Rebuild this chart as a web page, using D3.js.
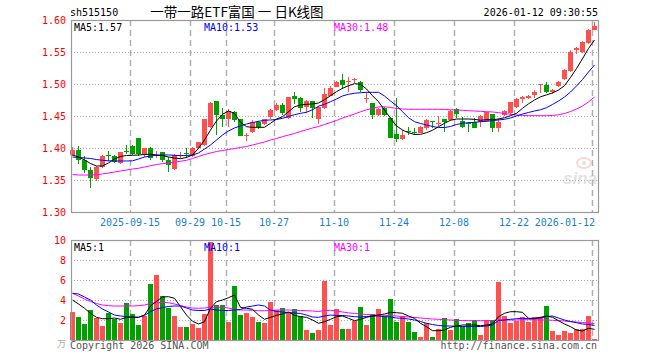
<!DOCTYPE html>
<meta charset="utf-8">
<script src="https://d3js.org/d3.v7.min.js"></script>
<style>
  body { margin: 0; background: #fff; }
  text { font-family: "DejaVu Sans Mono", monospace; font-size: 10px; }
</style>
<div id="kline"></div>
<script>

// trading days shown in the chart
var dates = ["2025-09-01","2025-09-02","2025-09-03","2025-09-04","2025-09-05","2025-09-08","2025-09-09","2025-09-10","2025-09-11","2025-09-12",
  "2025-09-15","2025-09-16","2025-09-17","2025-09-18","2025-09-19","2025-09-22","2025-09-23","2025-09-24","2025-09-25","2025-09-26",
  "2025-09-29","2025-09-30","2025-10-09","2025-10-10","2025-10-13","2025-10-14","2025-10-15","2025-10-16","2025-10-17","2025-10-20",
  "2025-10-21","2025-10-22","2025-10-23","2025-10-24","2025-10-27","2025-10-28","2025-10-29","2025-10-30","2025-10-31","2025-11-03",
  "2025-11-04","2025-11-05","2025-11-06","2025-11-07","2025-11-10","2025-11-11","2025-11-12","2025-11-13","2025-11-14","2025-11-17",
  "2025-11-18","2025-11-19","2025-11-20","2025-11-21","2025-11-24","2025-11-25","2025-11-26","2025-11-27","2025-11-28","2025-12-01",
  "2025-12-02","2025-12-03","2025-12-04","2025-12-05","2025-12-08","2025-12-09","2025-12-10","2025-12-11","2025-12-12","2025-12-15",
  "2025-12-16","2025-12-17","2025-12-18","2025-12-19","2025-12-22","2025-12-23","2025-12-24","2025-12-25","2025-12-26","2025-12-29",
  "2025-12-30","2025-12-31","2026-01-05","2026-01-06","2026-01-07","2026-01-08","2026-01-09","2026-01-12"];

var open = [1.389,1.397,1.382,1.366,1.351,1.371,1.3885,1.388,1.376,1.395,
  1.403,1.415,1.390,1.3995,1.388,1.393,1.381,1.367,1.388,1.392,
  1.388,1.3995,1.405,1.433,1.473,1.452,1.446,1.456,1.445,1.4195,
  1.4255,1.440,1.437,1.449,1.459,1.467,1.447,1.481,1.478,1.4646,
  1.473,1.445,1.462,1.482,1.496,1.506,1.504,1.5075,1.5026,1.477,
  1.470,1.4516,1.463,1.4464,1.4214,1.4141,1.426,1.4245,1.4239,1.4308,
  1.4415,1.438,1.4453,1.4437,1.4609,1.4422,1.439,1.4401,1.4411,1.4422,
  1.4527,1.4317,1.4516,1.4542,1.4646,1.4766,1.4777,1.4828,1.4985,1.4984,
  1.487,1.4974,1.5078,1.5203,1.5531,1.5495,1.5636,1.5844];

var high = [1.401,1.403,1.388,1.371,1.372,1.389,1.395,1.389,1.394,1.405,
  1.405,1.416,1.4005,1.402,1.395,1.394,1.386,1.390,1.393,1.3995,
  1.402,1.410,1.446,1.472,1.474,1.463,1.4615,1.458,1.446,1.423,
  1.444,1.442,1.4455,1.461,1.470,1.470,1.480,1.487,1.480,1.475,
  1.474,1.466,1.493,1.497,1.504,1.515,1.5115,1.510,1.504,1.4875,
  1.471,1.462,1.464,1.449,1.4776,1.428,1.433,1.431,1.435,1.4453,
  1.4425,1.4505,1.446,1.4594,1.462,1.4489,1.440,1.4474,1.4516,1.457,
  1.4537,1.4464,1.4594,1.4724,1.4776,1.4813,1.483,1.4906,1.500,1.5036,
  1.4925,1.505,1.523,1.5531,1.5578,1.5667,1.586,1.5964];

var low = [1.388,1.375,1.361,1.338,1.348,1.368,1.380,1.376,1.3745,1.390,
  1.389,1.388,1.386,1.381,1.384,1.3786,1.362,1.3656,1.384,1.384,
  1.386,1.398,1.403,1.432,1.420,1.433,1.433,1.441,1.418,1.4115,
  1.423,1.429,1.436,1.446,1.458,1.452,1.446,1.468,1.457,1.454,
  1.447,1.4375,1.461,1.481,1.495,1.492,1.488,1.501,1.487,1.471,
  1.445,1.450,1.450,1.415,1.409,1.412,1.420,1.421,1.423,1.428,
  1.4308,1.4348,1.4255,1.442,1.4474,1.4308,1.4255,1.4308,1.4333,1.441,
  1.4245,1.4255,1.4495,1.4516,1.462,1.4698,1.476,1.4776,1.4855,1.4855,
  1.485,1.496,1.507,1.5183,1.5464,1.5484,1.5625,1.5844];

var close = [1.397,1.382,1.365,1.353,1.371,1.388,1.3875,1.378,1.393,1.394,
  1.390,1.390,1.3995,1.384,1.389,1.381,1.373,1.389,1.389,1.391,
  1.4005,1.409,1.445,1.471,1.452,1.446,1.458,1.444,1.419,1.4205,
  1.441,1.433,1.445,1.459,1.467,1.454,1.479,1.477,1.463,1.4734,
  1.462,1.4646,1.484,1.494,1.5036,1.498,1.505,1.508,1.4906,1.478,
  1.4516,1.4604,1.4516,1.416,1.4141,1.4203,1.4255,1.424,1.4333,1.4437,
  1.4411,1.4386,1.4401,1.4578,1.4527,1.4333,1.4386,1.4317,1.4505,1.4558,
  1.4317,1.4411,1.4578,1.4714,1.4766,1.4802,1.4818,1.488,1.4995,1.488,
  1.4906,1.5036,1.5219,1.5505,1.5567,1.5651,1.5844,1.5906];

// moving averages as drawn on the chart
var ma5 = [1.3891,1.3859,1.3813,1.3758,1.3719,1.3719,1.3766,1.3828,1.3867,1.3883,
  1.3886,1.3891,1.3898,1.3902,1.3891,1.3883,1.3859,1.3844,1.3833,1.3852,
  1.3891,1.3995,1.4125,1.4281,1.4422,1.4527,1.4578,1.4542,1.4402,1.4333,
  1.4323,1.4323,1.4323,1.4386,1.4453,1.4489,1.4567,1.4645,1.4672,1.4683,
  1.4688,1.4703,1.4755,1.4817,1.4880,1.4933,1.4973,1.5005,1.4995,1.4922,
  1.4817,1.4723,1.4594,1.4464,1.4344,1.4281,1.4239,1.4211,1.4214,1.4239,
  1.4277,1.4333,1.4386,1.4433,1.4453,1.4453,1.4453,1.4448,1.4433,1.4442,
  1.4442,1.4453,1.4473,1.4505,1.4542,1.462,1.469,1.475,1.480,1.483,
  1.486,1.4906,1.4973,1.5102,1.5242,1.5395,1.5555,1.5688];

var ma10 = [1.3859,1.3852,1.3844,1.3836,1.3820,1.3808,1.3800,1.3797,1.3797,1.3797,
  1.3800,1.3828,1.3859,1.3875,1.3886,1.3891,1.3891,1.3886,1.3880,1.3883,
  1.3891,1.3922,1.3984,1.4047,1.4125,1.4203,1.4266,1.4313,1.4344,1.4375,
  1.4398,1.4417,1.4433,1.4438,1.4445,1.4464,1.4492,1.4520,1.4542,1.4558,
  1.4598,1.4652,1.4683,1.4723,1.4766,1.4813,1.4839,1.4855,1.4864,1.4870,
  1.4870,1.4870,1.4813,1.4734,1.4661,1.4567,1.4473,1.4411,1.4383,1.4359,
  1.4336,1.4320,1.4320,1.4336,1.4367,1.4386,1.4395,1.4402,1.4411,1.4417,
  1.4427,1.4438,1.4448,1.4469,1.4500,1.4531,1.4555,1.4578,1.4598,1.4630,
  1.4680,1.4734,1.4797,1.4875,1.4969,1.5070,1.5188,1.5297];

var ma30 = [1.3586,1.3578,1.3578,1.3578,1.3583,1.3594,1.3609,1.3625,1.3641,1.3656,
  1.3672,1.3683,1.3703,1.3723,1.3742,1.3755,1.3766,1.3777,1.3792,1.3808,
  1.3836,1.3867,1.3898,1.3922,1.3945,1.3961,1.3977,1.3992,1.4008,1.4023,
  1.4047,1.4070,1.4094,1.4125,1.4148,1.4177,1.4203,1.4227,1.4258,1.4284,
  1.4313,1.4336,1.4367,1.4398,1.4430,1.4469,1.4500,1.4531,1.4566,1.4597,
  1.4620,1.4641,1.4645,1.4633,1.4617,1.4609,1.4605,1.4605,1.4605,1.4605,
  1.4605,1.4605,1.4602,1.4598,1.4594,1.4589,1.4583,1.4578,1.4573,1.4567,
  1.4563,1.4552,1.4539,1.4527,1.4516,1.4508,1.4505,1.4505,1.4505,1.4505,
  1.4508,1.4520,1.4539,1.4570,1.4609,1.4656,1.4719,1.4797];

// volume (万) and its averages
var volume = [2.83,2.27,1.6,3.0,2.17,1.4,2.73,2.07,1.73,3.67,
  2.6,1.5,2.4,5.6,6.5,4.4,3.17,2.4,1.33,1.27,
  1.6,1.23,2.6,9.83,3.47,3.47,1.83,5.4,2.5,2.73,
  2.27,1.83,1.73,3.83,3.0,3.2,2.83,3.07,2.4,1.0,
  0.67,1.0,5.93,1.5,3.07,1.1,1.1,1.93,3.33,1.5,
  2.6,3.07,2.4,4.1,1.83,2.4,1.83,0.83,0.33,1.67,
  0.33,1.1,2.17,1.0,2.07,1.4,1.67,2.0,0.5,2.0,
  2.0,5.83,2.4,1.73,1.93,2.27,1.83,2.27,2.27,3.4,
  0.93,0.5,0.93,0.73,1.13,1.07,2.4,0.07];

var vma5 = [4.0,3.6,3.17,2.67,2.27,2.13,2.13,2.2,2.07,2.27,
  2.27,2.27,2.5,3.4,3.87,4.3,4.33,4.17,3.33,2.5,
  1.87,1.6,1.83,3.17,3.83,4.0,4.23,4.5,3.27,3.17,
  3.07,2.5,2.07,2.27,2.47,2.6,2.8,2.47,2.33,2.27,
  2.0,1.67,1.83,2.07,2.33,2.4,2.17,1.93,2.07,2.27,
  2.4,2.5,2.6,2.77,2.73,2.67,2.4,2.17,1.67,1.33,
  0.93,0.93,1.0,1.27,1.4,1.5,1.5,1.5,1.43,1.5,
  1.6,2.33,2.67,2.83,2.83,2.77,2.17,2.17,2.27,2.4,
  2.27,1.93,1.6,1.33,1.0,0.9,1.17,1.07];

var vma10 = [4.67,4.6,4.3,4.0,3.5,3.1,2.8,2.5,2.4,2.35,
  2.3,2.27,2.45,2.85,3.1,3.25,3.35,3.4,3.4,3.2,
  3.0,2.95,2.95,3.1,3.0,2.95,2.95,3.0,3.05,3.3,
  3.4,3.5,3.4,3.0,2.85,2.8,2.75,2.7,2.65,2.5,
  2.3,2.27,2.4,2.5,2.45,2.45,2.4,2.33,2.3,2.35,
  2.4,2.4,2.33,2.3,2.2,2.17,2.1,2.0,1.85,1.67,
  1.55,1.45,1.4,1.4,1.37,1.35,1.33,1.35,1.35,1.4,
  1.5,1.95,2.0,2.07,2.13,2.17,2.13,2.13,2.2,2.35,
  2.4,2.2,2.0,1.85,1.73,1.6,1.55,1.45];

var vma30 = [4.67,4.4,4.1,3.85,3.65,3.5,3.43,3.4,3.4,3.4,
  3.4,3.43,3.5,3.65,3.73,3.77,3.73,3.6,3.45,3.3,
  3.2,3.17,3.2,3.27,3.27,3.27,3.2,3.05,3.0,3.0,
  2.97,2.93,2.93,2.95,3.0,3.0,3.0,2.97,2.95,2.93,
  2.9,2.85,2.95,2.97,2.9,2.8,2.72,2.65,2.6,2.55,
  2.52,2.5,2.47,2.43,2.4,2.35,2.3,2.25,2.2,2.15,
  2.1,2.07,2.03,2.0,1.97,1.95,1.93,1.93,1.93,1.93,
  1.95,2.0,2.0,2.0,2.0,2.03,2.03,2.03,2.0,2.0,
  1.97,1.93,1.9,1.83,1.8,1.75,1.7,1.63];

// axis ticks
var priceTicks = [1.30, 1.35, 1.40, 1.45, 1.50, 1.55, 1.60];
var volTicks = [2, 4, 6, 8, 10];
var dateTicks = ["2025-09-15","2025-09-29","2025-10-15","2025-10-27","2025-11-10","2025-11-24","2025-12-08","2025-12-22","2026-01-12"];
var dateTickLabels = ["2025-09-15","09-29","10-15","10-27","11-10","11-24","12-08","12-22","2026-01-12"];

var upColor = "#ff5050", downColor = "#00a000";
var gridColor = "#aaaaaa", frameColor = "#999999";

var svg = d3.select("#kline")
  .append("svg")
    .attr("width", 660)
    .attr("height", 360);

var left = 71, right = 598,
    priceTop = 20, priceBottom = 212,
    volTop = 240, volBottom = 340;

// scales
var x = d3.scaleBand().domain(dates).range([70, 598]);
var y = d3.scaleLinear().domain([1.30, 1.60]).range([priceBottom, priceTop]);
var yv = d3.scaleLinear().domain([0, 10]).range([volBottom, volTop]);

// horizontal dotted grid
svg.append("g")
  .selectAll("line")
  .data(priceTicks.slice(1, -1))
  .enter().append("line")
    .attr("x1", left).attr("x2", right)
    .attr("y1", function(d) { return Math.round(y(d)) + 0.5; })
    .attr("y2", function(d) { return Math.round(y(d)) + 0.5; })
    .attr("stroke", gridColor)
    .attr("stroke-dasharray", "1,2");

svg.append("g")
  .selectAll("line")
  .data(volTicks.slice(0, -1))
  .enter().append("line")
    .attr("x1", left).attr("x2", right)
    .attr("y1", function(d) { return Math.round(yv(d)) + 0.5; })
    .attr("y2", function(d) { return Math.round(yv(d)) + 0.5; })
    .attr("stroke", gridColor)
    .attr("stroke-dasharray", "1,2");

// vertical dashed lines at the date labels
[[priceTop, priceBottom], [volTop, volBottom]].forEach(function(r) {
  svg.append("g")
    .selectAll("line")
    .data(dateTicks)
    .enter().append("line")
      .attr("x1", function(d) { return x(d) + 0.5; })
      .attr("x2", function(d) { return x(d) + 0.5; })
      .attr("y1", r[0]).attr("y2", r[1])
      .attr("stroke", "#b0b0b0")
      .attr("stroke-width", 1.5)
      .attr("stroke-dasharray", "6,4");
});

// watermark
var wm = svg.append("g").attr("opacity", 0.5);
wm.append("ellipse").attr("cx", 584).attr("cy", 163).attr("rx", 7).attr("ry", 5)
  .attr("fill", "none").attr("stroke", "#f2b0b0").attr("stroke-width", 2);
wm.append("circle").attr("cx", 584).attr("cy", 163).attr("r", 2).attr("fill", "#f2b0b0");
wm.append("text")
  .attr("x", 563).attr("y", 184)
  .style("font-family", "Liberation Sans, sans-serif")
  .style("font-size", "17px")
  .style("font-style", "italic")
  .style("font-weight", "bold")
  .attr("fill", "#c8c8c8")
  .text("sina");

// candles
var idx = d3.range(dates.length);
var candles = svg.append("g").attr("shape-rendering", "crispEdges");

candles.selectAll(".wick")
  .data(idx)
  .enter().append("rect")
    .attr("x", function(i) { return x(dates[i]) + 2; })
    .attr("y", function(i) { return y(high[i]); })
    .attr("width", 1)
    .attr("height", function(i) { return Math.max(1, y(low[i]) - y(high[i])); })
    .attr("fill", function(i) { return close[i] >= open[i] ? upColor : downColor; });

candles.selectAll(".body")
  .data(idx)
  .enter().append("rect")
    .attr("x", function(i) { return x(dates[i]); })
    .attr("y", function(i) { return y(Math.max(open[i], close[i])); })
    .attr("width", 5)
    .attr("height", function(i) { return Math.max(1, Math.abs(y(open[i]) - y(close[i]))); })
    .attr("fill", function(i) { return close[i] >= open[i] ? upColor : downColor; });

// moving average lines
function drawLine(values, scale, color) {
  var line = d3.line()
    .x(function(d, i) { return x(dates[i]) + 2.5; })
    .y(function(d) { return scale(d); });
  svg.append("path")
    .datum(values)
    .attr("d", line)
    .attr("fill", "none")
    .attr("stroke", color)
    .attr("stroke-width", 1);
}
drawLine(ma30, y, "#ff00ff");
drawLine(ma10, y, "#0000ff");
drawLine(ma5, y, "#000000");

// volume bars
svg.append("g")
  .attr("shape-rendering", "crispEdges")
  .selectAll("rect")
  .data(idx)
  .enter().append("rect")
    .attr("x", function(i) { return x(dates[i]); })
    .attr("y", function(i) { return yv(volume[i]); })
    .attr("width", 5)
    .attr("height", function(i) { return volBottom - yv(volume[i]); })
    .attr("fill", function(i) { return close[i] >= open[i] ? upColor : downColor; });

drawLine(vma30, yv, "#ff00ff");
drawLine(vma10, yv, "#0000ff");
drawLine(vma5, yv, "#000000");

// frames
[[priceTop, priceBottom], [volTop, volBottom]].forEach(function(r) {
  svg.append("rect")
    .attr("x", left + 0.5).attr("y", r[0] + 0.5)
    .attr("width", right - left).attr("height", r[1] - r[0])
    .attr("fill", "none")
    .attr("stroke", frameColor)
    .attr("stroke-width", 1.2);
});

// y axes
var priceAxis = svg.append("g")
  .attr("transform", "translate(" + left + ",0)")
  .call(d3.axisLeft(y).tickValues(priceTicks).tickFormat(d3.format(".2f")).tickSize(0).tickPadding(5));
var volAxis = svg.append("g")
  .attr("transform", "translate(" + left + ",0)")
  .call(d3.axisLeft(yv).tickValues(volTicks).tickFormat(d3.format("d")).tickSize(0).tickPadding(5));
[priceAxis, volAxis].forEach(function(a) {
  a.select(".domain").remove();
  a.selectAll("text")
    .style("font-family", "DejaVu Sans Mono, monospace")
    .style("font-size", "10px")
    .attr("fill", "#ff0000");
});

svg.append("text")
  .attr("x", 66).attr("y", 347)
  .attr("text-anchor", "end")
  .style("font-family", "Noto Sans CJK SC")
  .style("font-size", "9px")
  .attr("fill", "#aaaaaa")
  .text("万");

// date labels
svg.append("g")
  .selectAll("text")
  .data(dateTicks)
  .enter().append("text")
    .attr("x", function(d, i) { return i === dateTicks.length - 1 ? x(d) + 3 : x(d); })
    .attr("y", 226)
    .attr("text-anchor", function(d, i) { return i === dateTicks.length - 1 ? "end" : "middle"; })
    .attr("fill", "#1a7fd0")
    .text(function(d, i) { return dateTickLabels[i]; });

// legends
var last = dates.length - 1;
var legends = [
  {x: 74, y: 31, text: "MA5:" + ma5[last].toFixed(2), color: "#000000"},
  {x: 204, y: 31, text: "MA10:" + ma10[last].toFixed(2), color: "#0000ff"},
  {x: 334, y: 31, text: "MA30:" + ma30[last].toFixed(2), color: "#ff00ff"},
  {x: 74, y: 251, text: "MA5:" + Math.floor(vma5[last]), color: "#000000"},
  {x: 204, y: 251, text: "MA10:" + Math.floor(vma10[last]), color: "#0000ff"},
  {x: 334, y: 251, text: "MA30:" + Math.floor(vma30[last]), color: "#ff00ff"}
];
svg.append("g")
  .selectAll("text")
  .data(legends)
  .enter().append("text")
    .attr("x", function(d) { return d.x; })
    .attr("y", function(d) { return d.y; })
    .attr("fill", function(d) { return d.color; })
    .text(function(d) { return d.text; });

// header
svg.append("text").attr("x", 70).attr("y", 16).attr("fill", "#000").text("sh515150");
svg.append("text")
  .attr("x", 237).attr("y", 17)
  .attr("text-anchor", "middle")
  .style("font-family", "Noto Sans CJK SC")
  .style("font-size", "13.5px")
  .attr("fill", "#000")
  .text("一带一路ETF富国 一 日K线图");
svg.append("text").attr("x", 598).attr("y", 16).attr("text-anchor", "end").attr("fill", "#000").text("2026-01-12 09:30:55");

// footer
svg.append("text").attr("x", 70).attr("y", 349).attr("fill", "#555").text("Copyright 2026 SINA.COM");
svg.append("text").attr("x", 597).attr("y", 349).attr("text-anchor", "end").attr("fill", "#555").text("http://finance.sina.com.cn");

</script>
